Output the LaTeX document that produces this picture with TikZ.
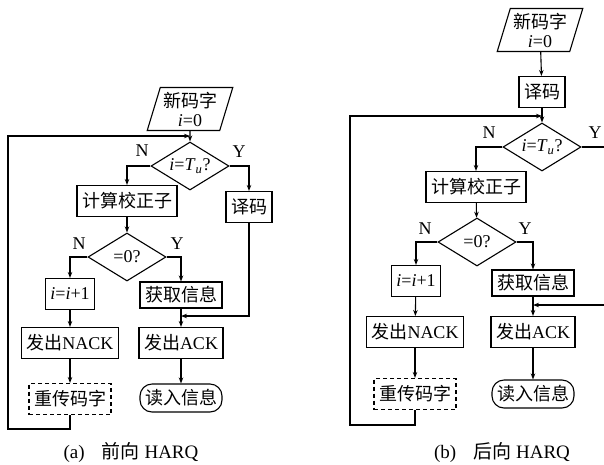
\documentclass[tikz,border=0pt]{standalone}
\usepackage{fontspec}
\setmainfont{Liberation Serif}
\newfontfamily\cjk{Noto Sans CJK SC}
\usetikzlibrary{shapes.geometric,arrows.meta}
\begin{document}
\begin{tikzpicture}[x=1pt,y=-1pt,line width=1.1pt,font=\fontsize{18}{19}\selectfont,
    arr/.style={-{Stealth[length=6pt,width=4.5pt]}},
    box/.style={draw,shape=rectangle,inner xsep=5pt,inner ysep=0pt,minimum height=31pt},
    dbox/.style={box,dash pattern=on 4pt off 3pt},
    rbox/.style={box,rounded corners=12pt,minimum height=28pt},
    para/.style={draw,trapezium,trapezium left angle=71,trapezium right angle=109,trapezium stretches=true,minimum width=86pt,minimum height=43pt,inner sep=0pt,align=center},
    test/.style={draw,diamond,aspect=1.65,inner sep=0pt,minimum width=78pt,minimum height=48pt},
    captxt/.style={font=\fontsize{19}{20}\selectfont}]
    \useasboundingbox (0,0) rectangle (604,464);

    \node[para] (a0) at (190,109) {{\cjk 新码字}\\\textit{i}=0};
    \node[test] (a1) at (190,166) {\textit{i}=\textit{T}\textsubscript{\textit{u}}?};
    \node[box] (a2) at (127,201) {\cjk 计算校正子};
    \node[box] (a3) at (249,207) {\cjk 译码};
    \node[test] (a4) at (127,257) {=0?};
    \node[box] (a5) at (70,294) {\textit{i}=\textit{i}+1};
    \node[box,minimum height=26pt] (a6) at (181,295) {\cjk 获取信息};
    \node[box] (a7) at (70,343) {{\cjk 发出}NACK};
    \node[box] (a8) at (181,343) {{\cjk 发出}ACK};
    \node[dbox] (a9) at (70,399) {\cjk 重传码字};
    \node[rbox] (a10) at (181,398) {\cjk 读入信息};
    \coordinate (a11) at (181,316);
    \coordinate (a12) at (190,136);
    \node (na1) at (142,151) {N};
    \node (ya1) at (239,152) {Y};
    \node (na4) at (79,244) {N};
    \node (ya4) at (177,244) {Y};
    \node[captxt] (ca) at (131,452) {(a)\hspace{0.9em}{\cjk 前向} HARQ};

    \draw[arr] (a0) -- (a1);
    \draw[arr] (a1.west) -| (a2);
    \draw[arr] (a1.east) -| (a3);
    \draw[arr] (a2) -- (a4);
    \draw[arr] (a4.west) -| (a5);
    \draw[arr] (a4.east) -| (a6);
    \draw[arr] (a5) -- (a7);
    \draw[arr] (a6) -- (a8);
    \draw[arr] (a7) -- (a9);
    \draw[arr] (a8) -- (a10);
    \draw[arr] (a3) |- (a11);
    \draw[arr] (a9) |- (8,429) |- (a12);

    \node[para] (b0) at (540,30) {{\cjk 新码字}\\\textit{i}=0};
    \node[box] (b1) at (542,92) {\cjk 译码};
    \node[test] (b2) at (542,147) {\textit{i}=\textit{T}\textsubscript{\textit{u}}?};
    \node[box] (b3) at (476,187) {\cjk 计算校正子};
    \node[test] (b4) at (477,242) {=0?};
    \node[box] (b5) at (416,281) {\textit{i}=\textit{i}+1};
    \node[box,minimum height=26pt] (b6) at (533,283) {\cjk 获取信息};
    \node[box] (b7) at (415,332) {{\cjk 发出}NACK};
    \node[box] (b8) at (533,332) {{\cjk 发出}ACK};
    \node[dbox] (b9) at (415,394) {\cjk 重传码字};
    \node[rbox] (b10) at (533,394) {\cjk 读入信息};
    \coordinate (b11) at (533,305);
    \coordinate (b12) at (542,116);
    \node (nb2) at (489,133) {N};
    \node (yb2) at (595,133) {Y};
    \node (nb4) at (425,229) {N};
    \node (yb4) at (525,229) {Y};
    \node[captxt] (cb) at (502,453) {(b)\hspace{0.9em}{\cjk 后向} HARQ};

    \draw[arr] (b0) -- (b1);
    \draw[arr] (b1) -- (b2);
    \draw[arr] (b2.west) -| (b3);
    \draw (b2.east) -- (606,147);
    \draw[arr] (b3) -- (b4);
    \draw[arr] (b4.west) -| (b5);
    \draw[arr] (b4.east) -| (b6);
    \draw[arr] (b5) -- (b7);
    \draw[arr] (b6) -- (b8);
    \draw[arr] (b7) -- (b9);
    \draw[arr] (b8) -- (b10);
    \draw[arr] (606,305) -- (b11);
    \draw[arr] (b9) |- (350,425) |- (b12);
\end{tikzpicture}
\end{document}
